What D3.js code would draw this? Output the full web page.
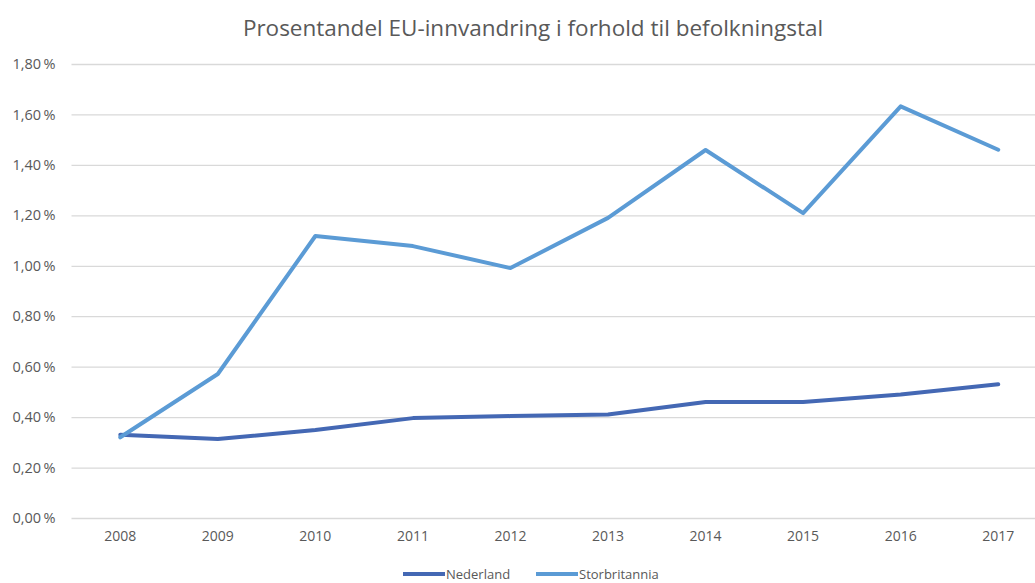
<!DOCTYPE html>
<html><head><meta charset="utf-8">
<script src="https://cdn.jsdelivr.net/npm/d3@7/dist/d3.min.js"></script>
<style>body{margin:0;background:#fff}svg{display:block}text{font-family:"Open Sans","Liberation Sans",sans-serif;fill:#595959}</style>
</head><body><svg id="c" width="1035" height="583"></svg>
<script>
const years = ["2008","2009","2010","2011","2012","2013","2014","2015","2016","2017"];
const nederland = [0.33,0.313,0.349,0.396,0.404,0.41,0.46,0.46,0.49,0.53];
const storbritannia = [0.32,0.571,1.118,1.078,0.991,1.19,1.459,1.209,1.632,1.46];
const yTicks = [0,0.2,0.4,0.6,0.8,1.0,1.2,1.4,1.6,1.8];
const seriesNames = ["Nederland","Storbritannia"];
const colors = ["#4468B4","#5B9BD5"];

const svg = d3.select("#c");
const mLeft = 71.5, mRight = 1047, mTop = 64, mBottom = 518;
const x = d3.scaleBand().domain(years).range([mLeft,mRight]);
const y = d3.scaleLinear().domain([0,1.8]).range([mBottom,mTop]);
const fmt = v => d3.format(".2f")(v).replace(".",",") + "\u2009%";

svg.append("text").attr("x",533).attr("y",36).attr("text-anchor","middle")
  .style("font-size","22.5px").text("Prosentandel EU-innvandring i forhold til befolkningstal");

const gy = svg.append("g").attr("transform",`translate(${mLeft},0)`)
  .call(d3.axisLeft(y).tickValues(yTicks).tickFormat(fmt).tickSize(-(mRight-mLeft)).tickPadding(16));
gy.select(".domain").remove();
gy.selectAll("line").attr("stroke","#d9d9d9").attr("stroke-width",1.3);
gy.selectAll("text").style("font-size","14.5px").attr("fill","#595959");

const gx = svg.append("g").attr("transform",`translate(0,${mBottom})`)
  .call(d3.axisBottom(x).tickSize(0).tickPadding(13));
gx.select(".domain").remove();
gx.selectAll("text").style("font-size","14px").attr("fill","#595959");

const line = d3.line().x((d,i)=>x(years[i])+x.bandwidth()/2).y(d=>y(d));
[nederland, storbritannia].forEach((s,k)=>{
  svg.append("path").datum(s).attr("d",line).attr("fill","none")
    .attr("stroke",colors[k]).attr("stroke-width",4).attr("stroke-linejoin","round").attr("stroke-linecap","round");
});

const legX = [403,536];
seriesNames.forEach((n,k)=>{
  svg.append("line").attr("x1",legX[k]).attr("x2",legX[k]+42).attr("y1",574).attr("y2",574)
    .attr("stroke",colors[k]).attr("stroke-width",4);
  svg.append("text").attr("x",legX[k]+43).attr("y",574).attr("dominant-baseline","central")
    .style("font-size","13px").text(n);
});
</script></body></html>
